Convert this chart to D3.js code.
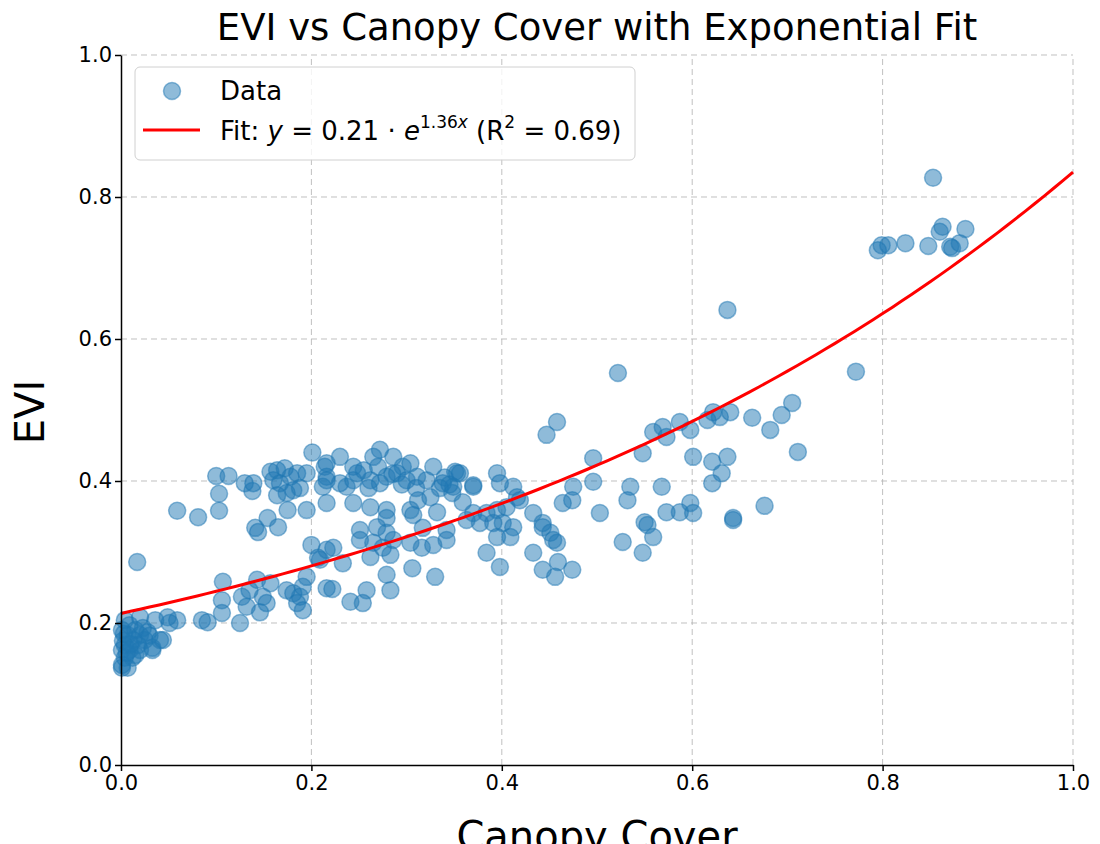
<!DOCTYPE html>
<html>
<head>
<meta charset="utf-8">
<script src="https://cdn.jsdelivr.net/npm/d3@7"></script>
<style>
  body { margin: 0; background: #fff; }
  text { font-family: "DejaVu Sans", sans-serif; fill: #000; }
</style>
</head>
<body>
<script>
// canopy cover vs EVI
var canopyCover = [
  0.004,0.009,0.001,0.007,0.015,0.020,0.013,0.004,0.001,0.009,0.018,0.025,0.028,0.004,0.012,0.001,0.007,0.001,0.020,0.015,
  0.023,0.030,0.041,0.033,0.044,0.033,0.002,0.006,0.010,0.003,
  0.020,0.036,0.049,0.059,0.051,0.085,0.091,0.125,0.017,0.059,0.081,
  0.100,0.113,0.103,0.103,0.130,0.139,0.138,0.201,0.157,0.164,0.172,0.160,0.167,0.178,0.185,0.181,0.174,0.164,0.188,
  0.195,0.214,0.216,0.212,0.216,0.175,0.195,0.154,0.165,0.141,0.144,0.200,0.207,0.216,
  0.107,0.106,0.106,0.127,0.132,0.135,0.143,0.149,0.153,0.157,0.146,0.174,0.181,0.188,0.191,0.195,0.185,0.191,0.216,
  0.272,0.265,0.286,0.296,0.304,0.244,0.248,0.230,0.216,0.216,0.230,0.237,0.244,0.262,0.272,0.279,0.290,0.300,0.311,0.321,
  0.328,0.338,0.349,0.353,0.348,0.359,0.370,0.325,0.312,0.244,0.262,0.279,0.304,0.332,0.279,0.307,0.269,0.251,0.251,0.279,
  0.286,0.317,0.342,0.342,0.304,0.316,0.328,0.265,0.275,0.283,0.262,0.223,0.209,0.233,0.306,0.279,0.330,0.283,0.222,0.258,
  0.241,0.254,0.351,0.356,0.370,0.255,0.270,0.285,0.260,0.295,0.310,0.335,0.340,0.345,
  0.384,0.398,0.395,0.398,0.412,0.384,0.395,0.405,0.416,0.377,0.391,0.401,0.412,0.395,0.409,0.363,0.370,0.419,0.433,0.443,
  0.443,0.451,0.454,0.458,0.433,0.443,0.459,0.456,0.474,0.458,0.447,0.496,0.496,0.475,0.474,0.464,0.503,0.535,0.532,0.548,
  0.559,0.569,0.573,0.587,0.598,0.601,0.568,0.573,0.587,0.598,0.601,0.550,0.553,0.559,0.527,0.548,0.522,0.637,0.616,0.622,
  0.629,0.640,0.663,0.682,0.694,0.705,0.621,0.637,0.631,0.621,0.711,0.643,0.643,0.676,0.772,0.853,0.795,0.799,0.806,0.824,
  0.848,0.860,0.863,0.871,0.873,0.881,0.887
];
var evi = [
  0.204,0.197,0.190,0.183,0.190,0.183,0.176,0.169,0.162,0.162,0.169,0.176,0.187,0.151,0.151,0.141,0.137,0.137,0.162,0.155,
  0.193,0.182,0.176,0.162,0.176,0.165,0.175,0.158,0.170,0.185,
  0.208,0.204,0.208,0.204,0.200,0.204,0.201,0.200,0.286,0.358,0.349,
  0.407,0.407,0.382,0.358,0.397,0.397,0.386,0.440,0.413,0.415,0.418,0.401,0.397,0.406,0.411,0.387,0.383,0.380,0.390,
  0.411,0.420,0.406,0.392,0.369,0.359,0.359,0.348,0.335,0.334,0.328,0.310,0.292,0.303,
  0.258,0.232,0.214,0.237,0.223,0.246,0.261,0.237,0.228,0.256,0.215,0.246,0.242,0.237,0.251,0.265,0.228,0.218,0.249,
  0.444,0.434,0.434,0.420,0.425,0.420,0.411,0.434,0.425,0.401,0.397,0.392,0.401,0.401,0.397,0.406,0.411,0.401,0.406,0.401,
  0.420,0.397,0.392,0.411,0.383,0.370,0.394,0.377,0.373,0.369,0.363,0.359,0.359,0.356,0.348,0.352,0.335,0.331,0.317,0.327,
  0.317,0.334,0.331,0.317,0.313,0.306,0.310,0.313,0.306,0.296,0.293,0.306,0.289,0.284,0.277,0.268,0.265,0.246,0.248,0.246,
  0.230,0.228,0.413,0.411,0.392,0.415,0.420,0.410,0.390,0.395,0.390,0.390,0.405,0.395,
  0.299,0.279,0.411,0.397,0.392,0.355,0.359,0.363,0.377,0.341,0.341,0.341,0.335,0.321,0.321,0.345,0.355,0.373,0.355,0.341,
  0.335,0.327,0.317,0.313,0.299,0.275,0.286,0.265,0.275,0.483,0.465,0.432,0.399,0.392,0.373,0.369,0.355,0.392,0.373,0.439,
  0.469,0.476,0.462,0.483,0.472,0.434,0.392,0.356,0.356,0.369,0.355,0.342,0.338,0.321,0.314,0.299,0.552,0.641,0.486,0.497,
  0.490,0.497,0.489,0.472,0.493,0.510,0.427,0.434,0.411,0.397,0.441,0.348,0.345,0.365,0.554,0.827,0.725,0.732,0.732,0.735,
  0.731,0.751,0.758,0.730,0.728,0.735,0.755
];
var tickValues = [0.0, 0.2, 0.4, 0.6, 0.8, 1.0];
// exponential fit y = a * e^(b x)
var fitA = 0.2135;
var fitB = 1.364;

var svg = d3.select("body").append("svg")
    .attr("width", 1100)
    .attr("height", 844);

var x = d3.scaleLinear().domain([0, 1]).range([121, 1073]);
var y = d3.scaleLinear().domain([0, 1]).range([765, 55]);

// grid
svg.append("g").selectAll("line")
    .data(tickValues.slice(1))
    .enter().append("line")
    .attr("x1", function(d){ return x(d) })
    .attr("x2", function(d){ return x(d) })
    .attr("y1", y(0)).attr("y2", y(1))
    .attr("stroke", "#b0b0b0").attr("stroke-opacity", 0.8)
    .attr("stroke-dasharray", "6,4");
svg.append("g").selectAll("line")
    .data(tickValues.slice(1))
    .enter().append("line")
    .attr("y1", function(d){ return y(d) })
    .attr("y2", function(d){ return y(d) })
    .attr("x1", x(0)).attr("x2", x(1))
    .attr("stroke", "#b0b0b0").attr("stroke-opacity", 0.8)
    .attr("stroke-dasharray", "6,4");

// points
var points = canopyCover.map(function(d, i){ return [d, evi[i]] });
svg.append("g").selectAll("circle")
    .data(points)
    .enter().append("circle")
    .attr("cx", function(d){ return x(d[0]) })
    .attr("cy", function(d){ return y(d[1]) })
    .attr("r", 8.5)
    .attr("fill", "#1f77b4").attr("fill-opacity", 0.5)
    .attr("stroke", "#1f77b4").attr("stroke-opacity", 0.5)
    .attr("stroke-width", 1.5);

// fit curve
var fitPts = d3.range(0, 1.0001, 0.01).map(function(v){ return [v, fitA * Math.exp(fitB * v)] });
svg.append("path")
    .datum(fitPts)
    .attr("d", d3.line().x(function(d){ return x(d[0]) }).y(function(d){ return y(d[1]) }))
    .attr("fill", "none")
    .attr("stroke", "red")
    .attr("stroke-width", 3);

// axes
svg.append("g")
    .attr("transform", "translate(0," + y(0) + ")")
    .call(d3.axisBottom(x).tickValues(tickValues).tickFormat(d3.format(".1f")).tickSize(6).tickSizeOuter(0).tickPadding(4));
svg.append("g")
    .attr("transform", "translate(" + x(0) + ",0)")
    .call(d3.axisLeft(y).tickValues(tickValues).tickFormat(d3.format(".1f")).tickSize(6).tickSizeOuter(0).tickPadding(3));
svg.selectAll(".domain").attr("stroke", "#000").attr("stroke-width", 1.5);
svg.selectAll(".tick line").attr("stroke", "#000").attr("stroke-width", 1.5);
svg.selectAll(".tick text").style("font-size", "21px").style("font-family", "DejaVu Sans");

// title and labels
svg.append("text")
    .attr("x", 597).attr("y", 40)
    .attr("text-anchor", "middle")
    .style("font-size", "37px")
    .text("EVI vs Canopy Cover with Exponential Fit");
svg.append("text")
    .attr("x", 597).attr("y", 850)
    .attr("text-anchor", "middle")
    .style("font-size", "40px")
    .text("Canopy Cover");
svg.append("text")
    .attr("transform", "translate(44,412) rotate(-90)")
    .attr("text-anchor", "middle")
    .style("font-size", "40px")
    .text("EVI");

// legend
var legend = svg.append("g");
legend.append("rect")
    .attr("x", 135).attr("y", 67).attr("width", 500).attr("height", 93).attr("rx", 5)
    .attr("fill", "#fff").attr("fill-opacity", 0.8)
    .attr("stroke", "#d0d0d0");
legend.append("circle")
    .attr("cx", 172).attr("cy", 91).attr("r", 8.5)
    .attr("fill", "#1f77b4").attr("fill-opacity", 0.5)
    .attr("stroke", "#1f77b4").attr("stroke-opacity", 0.5).attr("stroke-width", 1.5);
legend.append("text").attr("x", 220).attr("y", 100).style("font-size", "26px").text("Data");
legend.append("line")
    .attr("x1", 143).attr("x2", 200).attr("y1", 130).attr("y2", 130)
    .attr("stroke", "red").attr("stroke-width", 3);
var fitText = legend.append("text").attr("x", 220).attr("y", 140).style("font-size", "26px");
fitText.append("tspan").text("Fit: ");
fitText.append("tspan").style("font-style", "italic").text("y");
fitText.append("tspan").text(" = 0.21 · ");
fitText.append("tspan").style("font-style", "italic").text("e");
fitText.append("tspan").attr("dy", -12).style("font-size", "17px").text("1.36");
fitText.append("tspan").style("font-size", "17px").style("font-style", "italic").text("x");
fitText.append("tspan").attr("dy", 12).text(" (R");
fitText.append("tspan").attr("dy", -12).style("font-size", "17px").text("2");
fitText.append("tspan").attr("dy", 12).text(" = 0.69)");
</script>
</body>
</html>
